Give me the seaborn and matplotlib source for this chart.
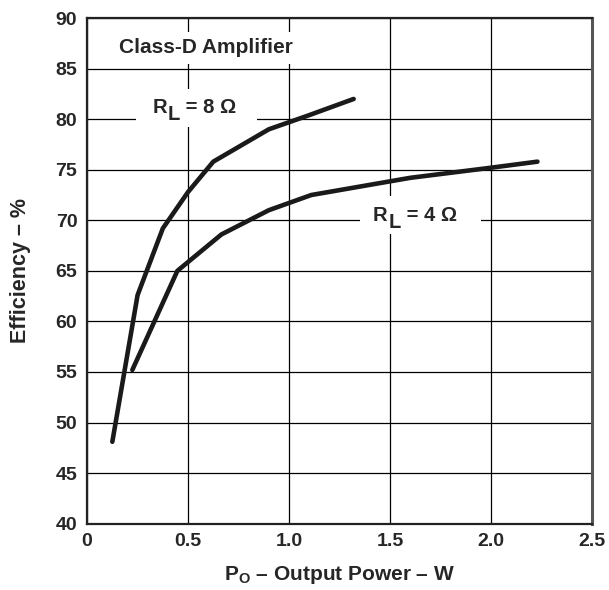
import matplotlib
matplotlib.use("Agg")
import matplotlib.pyplot as plt
import seaborn as sns
import pandas as pd

# Efficiency curves
power_8ohm = [0.125, 0.25, 0.375, 0.5, 0.625, 0.9, 1.1, 1.32]
eff_8ohm = [48.1, 62.6, 69.2, 72.8, 75.8, 79.0, 80.4, 82.0]

power_4ohm = [0.224, 0.447, 0.665, 0.9, 1.11, 1.6, 2.0, 2.23]
eff_4ohm = [55.2, 65.0, 68.6, 71.0, 72.5, 74.2, 75.2, 75.8]

x_ticks = [0, 0.5, 1.0, 1.5, 2.0, 2.5]
x_tick_labels = ["0", "0.5", "1.0", "1.5", "2.0", "2.5"]
y_ticks = [40, 45, 50, 55, 60, 65, 70, 75, 80, 85, 90]

df = pd.concat([
    pd.DataFrame({"power": power_8ohm, "eff": eff_8ohm, "load": "8"}),
    pd.DataFrame({"power": power_4ohm, "eff": eff_4ohm, "load": "4"}),
])

sns.set_style("white")
plt.rcParams["font.family"] = ["Liberation Sans", "DejaVu Sans"]
plt.rcParams["font.weight"] = "bold"
plt.rcParams["mathtext.fontset"] = "custom"
plt.rcParams["mathtext.rm"] = "Liberation Sans:bold"
plt.rcParams["mathtext.bf"] = "Liberation Sans:bold"

fig = plt.figure(figsize=(6.09, 5.90), dpi=100)
ax = fig.add_axes([0.143, 0.1124, 0.829, 0.857])

sns.lineplot(data=df, x="power", y="eff", units="load", estimator=None,
             sort=False, color="#1a1a1a", lw=3.3, ax=ax, zorder=3)
for ln in ax.lines:
    ln.set_solid_capstyle("round")
    ln.set_solid_joinstyle("round")

ax.set_xlim(0, 2.5)
ax.set_ylim(40, 90)
ax.set_xticks(x_ticks)
ax.set_xticklabels(x_tick_labels)
ax.set_yticks(y_ticks)
ax.tick_params(axis="both", length=0, labelsize=14, pad=7)
for lab in ax.get_xticklabels() + ax.get_yticklabels():
    lab.set_fontweight("bold")

ax.grid(True, color="black", lw=0.9)
ax.set_axisbelow(True)
for sp in ax.spines.values():
    sp.set_visible(True)
    sp.set_color("#222222")
    sp.set_linewidth(1.6)
ax.spines["right"].set_color("#555555")
ax.spines["right"].set_linewidth(2.2)


def load_label(x, y, value):
    # "R" with a full-size, lowered "L" subscript, then " = n Ω"
    t_r = ax.text(x, y, "R", fontsize=14.5, fontweight="bold",
                  ha="left", va="bottom", zorder=5)
    t_l = ax.annotate("L", xy=(1, 0), xycoords=t_r, xytext=(0.5, -5),
                      textcoords="offset points", fontsize=14.5,
                      fontweight="bold", ha="left", va="bottom", zorder=5)
    ax.annotate(" = " + value + " Ω", xy=(1, 0), xycoords=t_l,
                xytext=(0, 5), textcoords="offset points", fontsize=14.5,
                fontweight="bold", ha="left", va="bottom", zorder=5)


# white patches that break the grid behind the load labels
for cx, cy in [(0.54, 81.1), (1.65, 70.5)]:
    ax.add_patch(plt.Rectangle((cx - 0.3, cy - 1.9), 0.6, 3.8,
                               facecolor="white", edgecolor="none",
                               zorder=4))

load_label(0.325, 80.2, "8")
load_label(1.416, 69.5, "4")

ax.text(0.157, 86.5, "Class-D Amplifier", fontsize=15, fontweight="bold",
        ha="left", va="baseline", zorder=5,
        bbox=dict(facecolor="white", edgecolor="none", pad=5))

ax.set_xlabel(r"P$_\mathregular{O}$ – Output Power – W", fontsize=15,
              fontweight="bold", labelpad=10)
ax.set_ylabel("Efficiency – %", fontsize=15.5, fontweight="bold", labelpad=18)

fig.savefig("out.png", dpi=100)
